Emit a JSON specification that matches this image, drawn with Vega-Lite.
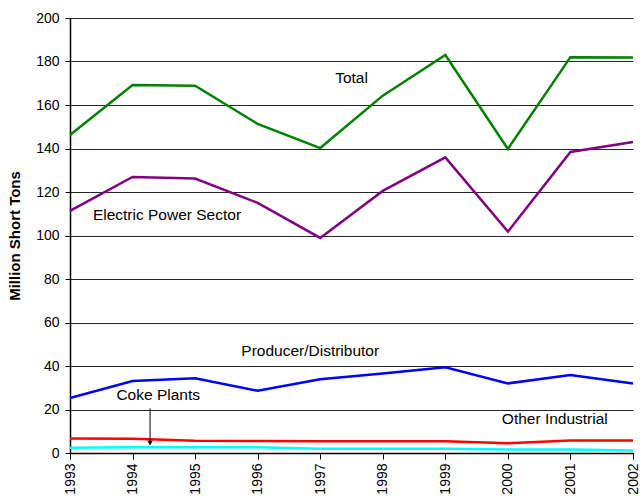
{
  "$schema": "https://vega.github.io/schema/vega-lite/v6.json",
  "autosize": {"type": "none"},
  "width": 563,
  "height": 435,
  "padding": {"left": 70, "top": 18, "right": 7, "bottom": 47},
  "background": "white",
  "config": {
    "view": {"stroke": null},
    "font": "Liberation Sans",
    "axis": {"labelFont": "Liberation Sans", "titleFont": "Liberation Sans", "labelColor": "black", "titleColor": "black"}
  },
  "datasets": {
    "series": [
      {"year": 1993, "series": "Total", "value": 146.2},
      {"year": 1994, "series": "Total", "value": 169.2},
      {"year": 1995, "series": "Total", "value": 168.9},
      {"year": 1996, "series": "Total", "value": 151.3},
      {"year": 1997, "series": "Total", "value": 140.2},
      {"year": 1998, "series": "Total", "value": 164.3},
      {"year": 1999, "series": "Total", "value": 183.0},
      {"year": 2000, "series": "Total", "value": 139.8},
      {"year": 2001, "series": "Total", "value": 182.0},
      {"year": 2002, "series": "Total", "value": 181.8},
      {"year": 1993, "series": "Electric Power Sector", "value": 111.3},
      {"year": 1994, "series": "Electric Power Sector", "value": 126.9},
      {"year": 1995, "series": "Electric Power Sector", "value": 126.2},
      {"year": 1996, "series": "Electric Power Sector", "value": 115.0},
      {"year": 1997, "series": "Electric Power Sector", "value": 98.9},
      {"year": 1998, "series": "Electric Power Sector", "value": 120.5},
      {"year": 1999, "series": "Electric Power Sector", "value": 135.9},
      {"year": 2000, "series": "Electric Power Sector", "value": 101.8},
      {"year": 2001, "series": "Electric Power Sector", "value": 138.4},
      {"year": 2002, "series": "Electric Power Sector", "value": 143.0},
      {"year": 1993, "series": "Producer/Distributor", "value": 25.3},
      {"year": 1994, "series": "Producer/Distributor", "value": 33.1},
      {"year": 1995, "series": "Producer/Distributor", "value": 34.4},
      {"year": 1996, "series": "Producer/Distributor", "value": 28.6},
      {"year": 1997, "series": "Producer/Distributor", "value": 33.9},
      {"year": 1998, "series": "Producer/Distributor", "value": 36.6},
      {"year": 1999, "series": "Producer/Distributor", "value": 39.4},
      {"year": 2000, "series": "Producer/Distributor", "value": 32.0},
      {"year": 2001, "series": "Producer/Distributor", "value": 35.9},
      {"year": 2002, "series": "Producer/Distributor", "value": 32.0},
      {"year": 1993, "series": "Other Industrial", "value": 6.7},
      {"year": 1994, "series": "Other Industrial", "value": 6.6},
      {"year": 1995, "series": "Other Industrial", "value": 5.6},
      {"year": 1996, "series": "Other Industrial", "value": 5.5},
      {"year": 1997, "series": "Other Industrial", "value": 5.4},
      {"year": 1998, "series": "Other Industrial", "value": 5.4},
      {"year": 1999, "series": "Other Industrial", "value": 5.4},
      {"year": 2000, "series": "Other Industrial", "value": 4.5},
      {"year": 2001, "series": "Other Industrial", "value": 5.8},
      {"year": 2002, "series": "Other Industrial", "value": 5.7},
      {"year": 1993, "series": "Coke Plants", "value": 2.4},
      {"year": 1994, "series": "Coke Plants", "value": 2.7},
      {"year": 1995, "series": "Coke Plants", "value": 2.7},
      {"year": 1996, "series": "Coke Plants", "value": 2.6},
      {"year": 1997, "series": "Coke Plants", "value": 2.0},
      {"year": 1998, "series": "Coke Plants", "value": 2.0},
      {"year": 1999, "series": "Coke Plants", "value": 1.9},
      {"year": 2000, "series": "Coke Plants", "value": 1.6},
      {"year": 2001, "series": "Coke Plants", "value": 1.6},
      {"year": 2002, "series": "Coke Plants", "value": 1.2}
    ],
    "labels": [
      {"x": 1997.5, "y": 172.4, "label": "Total"},
      {"x": 1994.55, "y": 109.4, "label": "Electric Power Sector"},
      {"x": 1996.84, "y": 46.9, "label": "Producer/Distributor"},
      {"x": 1994.41, "y": 26.7, "label": "Coke Plants"},
      {"x": 2000.75, "y": 15.7, "label": "Other Industrial"}
    ],
    "arrow": [
      {"x": 1994.28, "y": 20.5, "y2": 4.5}
    ]
  },
  "layer": [
    {
      "data": {"name": "series"},
      "mark": {"type": "line", "strokeWidth": 2.5, "clip": false},
      "encoding": {
        "x": {
          "field": "year", "type": "quantitative",
          "scale": {"domain": [1993, 2002], "nice": false, "zero": false},
          "axis": {
            "title": null, "values": [1993,1994,1995,1996,1997,1998,1999,2000,2001,2002],
            "format": "d", "labelAngle": -90, "labelAlign": "right", "labelBaseline": "middle",
            "labelFontSize": 14, "labelPadding": 4, "grid": false,
            "domainColor": "black", "domainWidth": 1.5, "tickColor": "black", "tickSize": 6, "labelFlush": false, "labelOverlap": false
          }
        },
        "y": {
          "field": "value", "type": "quantitative",
          "scale": {"domain": [0, 200], "nice": false},
          "axis": {
            "title": "Million Short Tons", "titleFontSize": 15, "titleFontWeight": "bold", "titlePadding": 13,
            "values": [0,20,40,60,80,100,120,140,160,180,200],
            "labelFontSize": 14, "labelPadding": 6,
            "grid": true, "gridColor": "black", "gridWidth": 1, "gridOpacity": 0.85,
            "domainColor": "black", "domainWidth": 1.5, "tickColor": "black", "tickSize": 5
          }
        },
        "color": {
          "field": "series", "type": "nominal",
          "scale": {
            "domain": ["Total", "Electric Power Sector", "Producer/Distributor", "Other Industrial", "Coke Plants"],
            "range": ["#008000", "#800080", "#0000FF", "#FF0000", "#00FFFF"]
          },
          "legend": null
        }
      }
    },
    {
      "data": {"name": "labels"},
      "mark": {"type": "text", "fontSize": 15.5, "color": "black", "font": "Liberation Sans"},
      "encoding": {
        "x": {"field": "x", "type": "quantitative"},
        "y": {"field": "y", "type": "quantitative"},
        "text": {"field": "label"}
      }
    },
    {
      "data": {"name": "arrow"},
      "mark": {"type": "rule", "color": "black", "strokeWidth": 1},
      "encoding": {
        "x": {"field": "x", "type": "quantitative"},
        "y": {"field": "y", "type": "quantitative"},
        "y2": {"field": "y2"}
      }
    },
    {
      "data": {"name": "arrow"},
      "mark": {"type": "point", "shape": "triangle-down", "filled": true, "color": "black", "size": 30, "opacity": 1},
      "encoding": {
        "x": {"field": "x", "type": "quantitative"},
        "y": {"field": "y2", "type": "quantitative"}
      }
    }
  ]
}
